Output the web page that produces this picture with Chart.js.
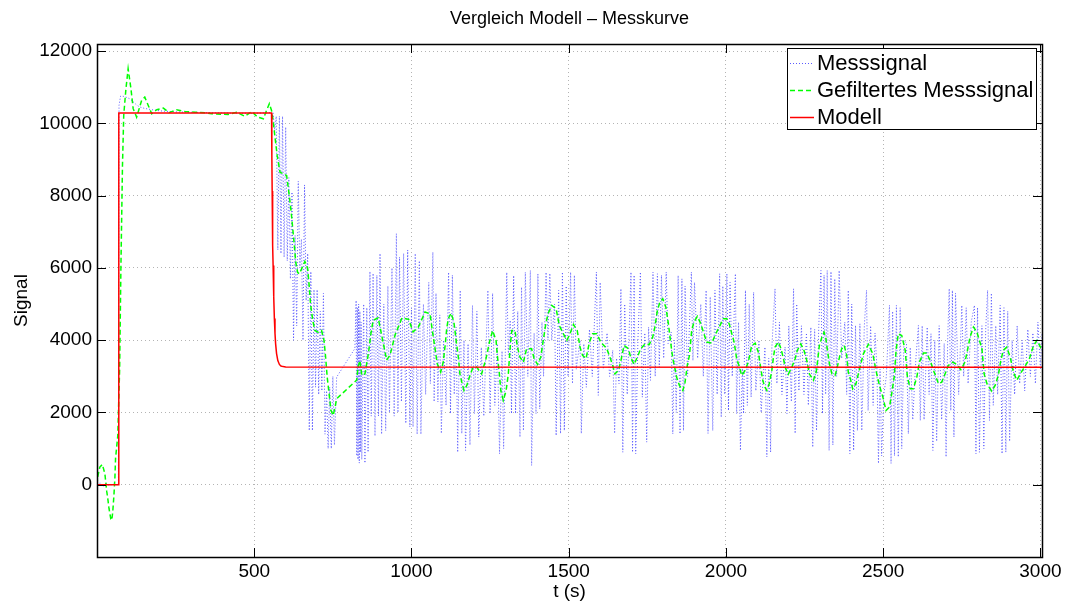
<!DOCTYPE html>
<html>
<head>
<meta charset="utf-8">
<script src="https://cdn.jsdelivr.net/npm/chart.js@4.4.0/dist/chart.umd.min.js"></script>
<style>
  html, body { margin: 0; padding: 0; background: #fff; }
</style>
</head>
<body>
<canvas id="chart" width="1066" height="603"></canvas>
<script>
const titleText = 'Vergleich Modell \u2013 Messkurve';
const xTicks = [500, 1000, 1500, 2000, 2500, 3000];
const yTicks = [0, 2000, 4000, 6000, 8000, 10000, 12000];

// Modell: Sprung bei ~69 s, Abfall bei ~555 s
const modell = [
  [0, 0], [69, 0], [69.3, 10290], [555, 10290], [556, 9110], [557, 8130], [558, 7310],
  [559, 6630], [560, 6070], [562, 5200], [564, 4600], [566, 4190], [568, 3900],
  [571, 3630], [575, 3435], [580, 3330], [585, 3285], [592, 3270], [600, 3260], [3005, 3255]
];

// Gefiltertes Messsignal
const gefiltert = [
  [0, 0], [2, 210], [9, 490], [17, 560], [25, 310], [31, -185], [35, -430], [38, -650],
  [44, -950], [47, -980], [50, -760], [52, -520], [54, -270], [57, 210], [59, 730],
  [66, 1350], [72, 3220], [76, 6000], [81, 8830], [85, 10230], [92, 10960], [99, 11515],
  [108, 10960], [115, 10410], [126, 10175], [142, 10640], [152, 10730], [163, 10500],
  [174, 10270], [190, 10380], [211, 10425], [229, 10300], [253, 10380], [280, 10330],
  [311, 10310], [343, 10300], [364, 10270], [417, 10250], [444, 10310], [470, 10200],
  [492, 10330], [511, 10175], [529, 10130], [539, 10360], [548, 10550], [555, 10360],
  [560, 10085], [566, 9620], [573, 9115], [582, 8650], [603, 8560], [610, 8100],
  [617, 7590], [622, 7130], [627, 6670], [632, 6160], [638, 5880], [643, 5840],
  [651, 5980], [661, 6180], [670, 5980], [675, 5470], [679, 5010], [686, 4550],
  [693, 4270], [704, 4220], [714, 4270], [722, 3990], [727, 3530], [732, 2980],
  [738, 2520], [744, 2060], [751, 1920], [757, 2150], [762, 2380], [826, 2900],
  [830, 3260], [836, 3440], [842, 3030], [852, 3070], [863, 3630], [871, 4180],
  [878, 4550], [894, 4620], [905, 4150], [921, 3450], [932, 3590], [948, 4150],
  [970, 4620], [991, 4580], [1005, 4230], [1022, 4365], [1043, 4780], [1059, 4730],
  [1067, 4225], [1075, 3765], [1082, 3350], [1093, 3120], [1101, 3395], [1107, 3855],
  [1112, 4320], [1117, 4595], [1126, 4750], [1135, 4500], [1142, 3995], [1149, 3530],
  [1154, 3070], [1160, 2840], [1167, 2610], [1176, 2750], [1186, 3025], [1195, 3240],
  [1207, 3255], [1223, 3070], [1237, 3490], [1248, 3950], [1258, 4270], [1269, 3995],
  [1273, 3580], [1279, 3120], [1284, 2610], [1292, 2335], [1301, 2610], [1308, 3070],
  [1313, 3720], [1319, 4270], [1329, 4270], [1337, 3810], [1345, 3530], [1356, 3395],
  [1366, 3765], [1382, 3765], [1390, 3490], [1401, 3330], [1411, 3530], [1419, 3995],
  [1428, 4500], [1435, 4750], [1446, 4965], [1460, 4870], [1470, 4410], [1483, 4180],
  [1494, 3995], [1504, 4180], [1515, 4435], [1527, 4270], [1536, 3810], [1544, 3580],
  [1555, 3490], [1566, 3950], [1576, 4180], [1589, 4180], [1602, 3950], [1621, 3765],
  [1631, 3530], [1640, 3300], [1647, 3070], [1658, 3165], [1665, 3395], [1676, 3855],
  [1690, 3765], [1697, 3530], [1708, 3330], [1718, 3530], [1729, 3765], [1743, 3900],
  [1756, 3880], [1767, 4085], [1774, 4365], [1782, 4825], [1790, 5055], [1799, 5150],
  [1809, 4915], [1817, 4455], [1824, 3950], [1831, 3490], [1838, 3210], [1843, 2980],
  [1852, 2750], [1863, 2610], [1870, 2840], [1877, 3300], [1884, 3580], [1891, 4270],
  [1898, 4500], [1909, 4660], [1920, 4455], [1930, 4180], [1939, 3950], [1955, 3920],
  [1965, 4130], [1979, 4380], [1992, 4595], [2003, 4595], [2011, 4435], [2018, 4200],
  [2026, 3950], [2034, 3490], [2043, 3255], [2050, 3025], [2061, 3165], [2071, 3395],
  [2082, 3855], [2093, 3920], [2103, 3670], [2111, 3210], [2117, 2890], [2124, 2700],
  [2130, 2610], [2138, 2810], [2146, 3165], [2151, 3530], [2156, 3810], [2167, 3950],
  [2175, 3765], [2183, 3490], [2188, 3255], [2198, 3055], [2209, 3240], [2220, 3490],
  [2227, 3720], [2238, 3900], [2248, 3720], [2257, 3440], [2265, 3070], [2278, 2890],
  [2287, 3120], [2291, 3395], [2297, 3855], [2305, 4085], [2312, 4225], [2318, 4040],
  [2322, 3765], [2329, 3350], [2337, 3070], [2347, 3025], [2354, 3255], [2361, 3530],
  [2368, 3765], [2376, 3855], [2384, 3580], [2389, 3120], [2397, 2890], [2403, 2655],
  [2414, 2810], [2421, 3070], [2429, 3350], [2437, 3625], [2453, 3885], [2467, 3625],
  [2477, 3165], [2488, 2750], [2499, 2425], [2509, 2055], [2520, 2150], [2527, 2520],
  [2535, 2980], [2541, 3720], [2548, 4180], [2559, 4130], [2570, 3720], [2577, 2980],
  [2586, 2655], [2596, 2655], [2607, 2980], [2615, 3395], [2628, 3645], [2639, 3645],
  [2651, 3395], [2662, 3120], [2676, 2795], [2686, 2840], [2697, 3070], [2707, 3300],
  [2721, 3395], [2734, 3330], [2747, 3185], [2760, 3395], [2768, 3720], [2776, 4085],
  [2787, 4365], [2798, 4225], [2806, 3995], [2814, 3765], [2821, 3070], [2830, 2795],
  [2845, 2590], [2856, 2750], [2866, 3025], [2874, 3440], [2882, 3720], [2893, 3810],
  [2904, 3530], [2914, 3120], [2925, 2890], [2937, 3090], [2951, 3275], [2965, 3490],
  [2978, 3855], [2989, 3995], [3000, 3810], [3005, 3900]
];

// Messsignal (Spitzen und Taeler der Rauschspalten)
const messsignal = [
  [0, 0], [10, 50], [20, -50], [30, 30], [40, -30], [50, 20], [60, 0], [68, 0],
  [70, 10500], [75, 10760], [85, 10750], [95, 10720], [105, 10680], [115, 10600],
  [125, 10520], [135, 10460], [150, 10420], [175, 10380], [200, 10350], [250, 10320],
  [300, 10310], [400, 10290], [500, 10280], [550, 10300], [556, 10250],
  [560, 10300], [565, 9800], [570, 10200], [575, 6500], [580, 10200], [585, 6400],
  [590, 10200], [595, 6300], [600, 9900], [605, 6200], [610, 8500], [615, 5700],
  [620, 8100], [625, 4000], [630, 6900], [635, 4400], [640, 8400], [645, 6000],
  [650, 6800], [655, 4000], [660, 8300], [665, 5100], [670, 6400], [675, 1500],
  [680, 5900], [685, 1500], [690, 5400], [695, 2700], [700, 5400], [705, 2500],
  [710, 4800], [715, 2600], [720, 5300], [725, 1400], [730, 2600], [735, 1000],
  [740, 2700], [745, 1000], [750, 3000], [755, 1100], [762, 2980], [820, 3770],
  [824, 5100], [826, 800], [828, 4900], [830, 700], [832, 5000], [834, 600],
  [836, 4800], [838, 900], [840, 4500], [842, 700], [848, 5000], [852, 600],
  [858, 4900], [862, 900], [868, 5900], [872, 1900], [878, 5850], [884, 1350],
  [890, 5800], [895, 1900], [900, 6400], [905, 1400], [912, 5000], [918, 1500],
  [925, 5500], [930, 2000], [938, 6000], [945, 1900], [952, 6950], [957, 2000],
  [962, 6300], [968, 2300], [975, 6400], [982, 1700], [988, 6500], [995, 1600],
  [1000, 4900], [1005, 1600], [1012, 6400], [1018, 1400], [1025, 6200], [1030, 1400],
  [1038, 5000], [1045, 2500], [1055, 5600], [1060, 2800], [1068, 6440], [1072, 2300],
  [1078, 5300], [1084, 2290], [1090, 4700], [1095, 1420], [1102, 4000], [1110, 2200],
  [1118, 5880], [1124, 1970], [1130, 5800], [1136, 2500], [1142, 4360], [1147, 900],
  [1155, 5380], [1160, 1420], [1167, 4000], [1172, 950], [1180, 3900], [1186, 1100],
  [1194, 4960], [1200, 1970], [1208, 4800], [1214, 1320], [1222, 3800], [1230, 1900],
  [1243, 5380], [1250, 1970], [1258, 5300], [1265, 2200], [1273, 3900], [1280, 860],
  [1288, 3700], [1293, 1000], [1303, 5880], [1308, 3600], [1314, 4550], [1318, 1970],
  [1325, 5790], [1331, 1970], [1338, 4800], [1345, 1320], [1350, 5470], [1356, 1500],
  [1362, 5880], [1370, 3000], [1378, 5930], [1382, 535], [1390, 4200], [1396, 1970],
  [1402, 5840], [1408, 2100], [1415, 4500], [1420, 3000], [1428, 5880], [1434, 4000],
  [1440, 5850], [1446, 3995], [1455, 5000], [1460, 1365], [1468, 5380], [1474, 1420],
  [1480, 5885], [1486, 1500], [1492, 5500], [1498, 3000], [1506, 5885], [1512, 2800],
  [1518, 5800], [1524, 3200], [1536, 4000], [1540, 1420], [1548, 3900], [1556, 2700],
  [1566, 4300], [1575, 3000], [1588, 5885], [1594, 2475], [1600, 5600], [1610, 3200],
  [1622, 4200], [1630, 3000], [1640, 3720], [1646, 1420], [1652, 3500], [1660, 2800],
  [1666, 5425], [1672, 900], [1678, 5000], [1686, 2500], [1698, 5885], [1703, 900],
  [1708, 5800], [1713, 860], [1720, 4000], [1728, 5885], [1734, 2425], [1742, 4200],
  [1748, 1180], [1754, 4360], [1760, 2890], [1768, 5885], [1775, 3000], [1782, 5840],
  [1788, 3255], [1795, 5800], [1802, 3500], [1810, 5885], [1816, 3910], [1826, 4225],
  [1831, 1410], [1836, 4000], [1842, 2000], [1848, 5790], [1854, 1410], [1860, 5700],
  [1865, 1500], [1870, 5500], [1878, 3000], [1890, 5885], [1895, 3440], [1900, 5600],
  [1910, 3500], [1920, 5000], [1928, 3000], [1937, 5380], [1943, 1420], [1950, 5200],
  [1958, 1500], [1965, 5380], [1972, 2500], [1980, 5840], [1985, 1870], [1990, 5500],
  [1996, 2500], [2003, 5840], [2008, 2055], [2013, 5600], [2020, 3000], [2030, 5840],
  [2034, 1970], [2040, 4500], [2046, 950], [2052, 3255], [2056, 1970], [2062, 5380],
  [2068, 2200], [2074, 5000], [2080, 2425], [2088, 5330], [2095, 2600], [2105, 4000],
  [2112, 2000], [2124, 3810], [2130, 770], [2136, 3500], [2142, 900], [2146, 3800],
  [2156, 5425], [2162, 2800], [2170, 4500], [2178, 2500], [2188, 3810], [2194, 1970],
  [2200, 4400], [2208, 2300], [2215, 5425], [2220, 1420], [2225, 5000], [2232, 2600],
  [2240, 4400], [2248, 2500], [2256, 4200], [2262, 2200], [2270, 4360], [2276, 1040],
  [2282, 4300], [2288, 1500], [2295, 4360], [2302, 5930], [2307, 1970], [2312, 5800],
  [2317, 2500], [2322, 5930], [2328, 950], [2334, 5900], [2340, 1100], [2346, 5700],
  [2352, 3000], [2360, 5930], [2368, 3500], [2378, 4500], [2384, 2500], [2389, 5380],
  [2394, 860], [2400, 5000], [2406, 950], [2412, 4405], [2418, 1500], [2426, 4455],
  [2432, 1500], [2440, 4400], [2447, 5380], [2452, 2055], [2460, 4400], [2468, 2200],
  [2474, 4200], [2480, 3255], [2485, 590], [2490, 3200], [2495, 800], [2502, 2500],
  [2510, 3000], [2520, 4965], [2525, 590], [2530, 4800], [2536, 800], [2542, 4965],
  [2548, 770], [2554, 4900], [2559, 1000], [2566, 4000], [2574, 3910], [2580, 1410],
  [2586, 3800], [2594, 1800], [2604, 3500], [2612, 4410], [2618, 1780], [2624, 4400],
  [2630, 1800], [2640, 4360], [2646, 2500], [2652, 4180], [2658, 950], [2664, 4000],
  [2670, 1200], [2678, 4400], [2686, 1800], [2694, 3910], [2700, 770], [2705, 4000],
  [2710, 5425], [2715, 2055], [2720, 5380], [2725, 1320], [2730, 5300], [2740, 2500],
  [2750, 4965], [2756, 3000], [2764, 4900], [2770, 2800], [2780, 4500], [2790, 4965],
  [2795, 860], [2800, 4900], [2806, 900], [2814, 4400], [2820, 1000], [2826, 4300],
  [2832, 5380], [2838, 1780], [2844, 5300], [2850, 2200], [2858, 4400], [2864, 2500],
  [2872, 4965], [2878, 860], [2884, 4900], [2890, 900], [2896, 4800], [2902, 1200],
  [2910, 4000], [2918, 2500], [2926, 4400], [2934, 2800], [2942, 4000], [2950, 2600],
  [2960, 4300], [2968, 3000], [2976, 4200], [2984, 2800], [2992, 4500], [3000, 3200],
  [3005, 4200]
];

const toPoints = arr => arr.map(p => ({ x: p[0], y: p[1] }));

const font = { family: '"Liberation Sans", Arial, sans-serif', size: 19 };

// Titel zentriert ueber der Achse (wie Matlab)
const titlePlugin = {
    id: 'axTitle',
    afterDraw(chart) {
        const { ctx, chartArea } = chart;
        ctx.save();
        ctx.font = '18px "Liberation Sans", Arial, sans-serif';
        ctx.fillStyle = '#000';
        ctx.textAlign = 'center';
        ctx.textBaseline = 'middle';
        ctx.fillText(titleText, (chartArea.left + chartArea.right) / 2, 19);
        ctx.restore();
    }
};

// Rahmen und nach innen zeigende Ticks
const framePlugin = {
    id: 'frame',
    afterDatasetsDraw(chart) {
        const { ctx, chartArea: a, scales } = chart;
        const len = 9;
        ctx.save();
        ctx.strokeStyle = '#000';
        ctx.lineWidth = 1;
        ctx.beginPath();
        scales.x.ticks.forEach(t => {
            const px = Math.round(scales.x.getPixelForValue(t.value)) + 0.5;
            ctx.moveTo(px, a.bottom); ctx.lineTo(px, a.bottom - len);
            ctx.moveTo(px, a.top); ctx.lineTo(px, a.top + len);
        });
        scales.y.ticks.forEach(t => {
            const py = Math.round(scales.y.getPixelForValue(t.value)) + 0.5;
            ctx.moveTo(a.left, py); ctx.lineTo(a.left + len, py);
            ctx.moveTo(a.right, py); ctx.lineTo(a.right - len, py);
        });
        ctx.stroke();
        ctx.lineWidth = 1.5;
        ctx.strokeRect(a.left + 0.5, a.top + 0.5, a.right - a.left, a.bottom - a.top);
        ctx.restore();
    }
};

// Legende mit Kasten oben rechts
const legendPlugin = {
    id: 'boxLegend',
    afterDraw(chart) {
        const { ctx } = chart;
        const box = { x: 787, y: 48, w: 249, h: 81 };
        const rowY = [63, 90, 117];
        ctx.save();
        ctx.fillStyle = '#fff';
        ctx.fillRect(box.x, box.y, box.w, box.h);
        ctx.strokeStyle = '#000';
        ctx.lineWidth = 1;
        ctx.strokeRect(box.x + 0.5, box.y + 0.5, box.w, box.h);
        ctx.font = '22px "Liberation Sans", Arial, sans-serif';
        ctx.textBaseline = 'middle';
        ctx.textAlign = 'left';
        chart.data.datasets.forEach((ds, i) => {
            const y = rowY[i] + 0.5;
            ctx.strokeStyle = ds.borderColor;
            ctx.lineWidth = ds.borderWidth;
            ctx.setLineDash(ds.borderDash || []);
            ctx.beginPath();
            ctx.moveTo(790, y);
            ctx.lineTo(814, y);
            ctx.stroke();
            ctx.setLineDash([]);
            ctx.fillStyle = '#000';
            ctx.fillText(ds.label, 817, rowY[i] + 1);
        });
        ctx.restore();
    }
};

new Chart(document.getElementById('chart'), {
    type: 'line',
    data: {
        datasets: [
            {
                label: 'Messsignal',
                data: toPoints(messsignal),
                borderColor: '#5a5aff',
                borderWidth: 1,
                borderDash: [1, 2],
                pointRadius: 0,
                tension: 0,
                order: 2
            },
            {
                label: 'Gefiltertes Messsignal',
                data: toPoints(gefiltert),
                borderColor: '#00ff00',
                borderWidth: 1.5,
                borderDash: [5, 3],
                pointRadius: 0,
                tension: 0,
                order: 1
            },
            {
                label: 'Modell',
                data: toPoints(modell),
                borderColor: '#ff0000',
                borderWidth: 1.5,
                pointRadius: 0,
                tension: 0,
                order: 0
            }
        ]
    },
    options: {
        responsive: false,
        animation: false,
        devicePixelRatio: 1,
        layout: { padding: { left: 0, right: 24, top: 44, bottom: 0 } },
        plugins: {
            legend: { display: false },
            tooltip: { enabled: false },
            title: { display: false }
        },
        scales: {
            x: {
                type: 'linear',
                min: 0,
                max: 3005,
                afterBuildTicks: scale => { scale.ticks = xTicks.map(v => ({ value: v })); },
                afterFit: scale => { scale.height = 46; },
                ticks: { font, color: '#000', padding: 3, maxRotation: 0, autoSkip: false, callback: v => String(v) },
                grid: { color: '#b4b4b4', lineWidth: 1, drawTicks: false },
                border: { display: false, dash: [1, 3] },
                title: { display: true, text: 't (s)', font, color: '#000', padding: 0 }
            },
            y: {
                type: 'linear',
                min: -2000,
                max: 12200,
                afterBuildTicks: scale => { scale.ticks = yTicks.map(v => ({ value: v })); },
                afterFit: scale => { scale.width = 97; },
                ticks: { font, color: '#000', padding: 5, callback: v => String(v) },
                grid: { color: '#b4b4b4', lineWidth: 1, drawTicks: false },
                border: { display: false, dash: [1, 3] },
                title: { display: true, text: 'Signal', font, color: '#000', padding: { top: 10, bottom: 0 } }
            }
        }
    },
    plugins: [framePlugin, titlePlugin, legendPlugin]
});
</script>
</body>
</html>
